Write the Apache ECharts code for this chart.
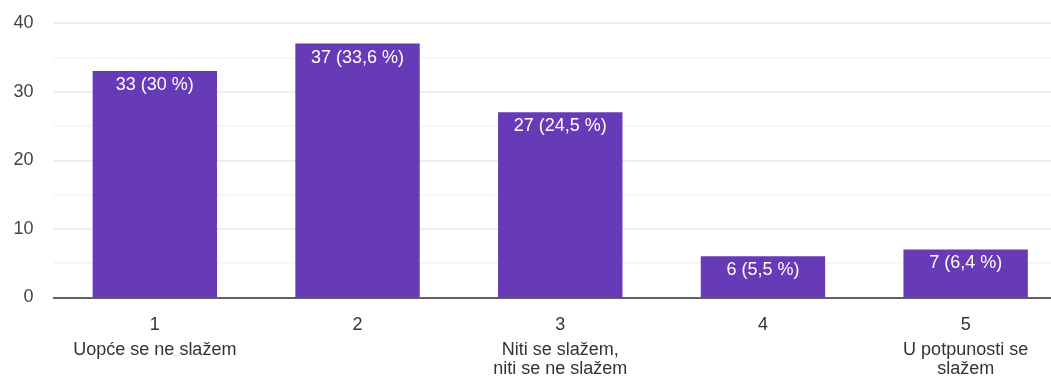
<!DOCTYPE html>
<html>
<head>
<meta charset="utf-8">
<script src="https://cdn.jsdelivr.net/npm/echarts@6/dist/echarts.min.js"></script>
<style>html,body{margin:0;padding:0;background:#fff;}#c{width:1051px;height:378px;}</style>
</head>
<body>
<div id="c"></div>
<script>
const categories = ['1', '2', '3', '4', '5'];
const categoryTexts = ['Uopće se ne slažem', '', 'Niti se slažem,\nniti se ne slažem', '', 'U potpunosti se\nslažem'];
const counts = [33, 37, 27, 6, 7];
const percents = ['30', '33,6', '24,5', '5,5', '6,4'];
const yTicks = [0, 10, 20, 30, 40];

const chart = echarts.init(document.getElementById('c'));
chart.setOption({
  animation: false,
  textStyle: { fontFamily: 'Liberation Sans, Arial, sans-serif' },
  grid: { left: 53.5, width: 1013.5, top: 23, bottom: 80.5, containLabel: false, outerBoundsMode: 'none' },
  xAxis: {
    type: 'category',
    data: categories,
    axisLine: { lineStyle: { color: '#333', width: 1.5 } },
    axisTick: { show: false },
    axisLabel: {
      interval: 0,
      margin: 13,
      formatter: function (v, i) {
        const t = categoryTexts[i];
        let s = '{n|' + v + '}';
        if (t) s += '\n' + t.split('\n').map(l => '{t|' + l + '}').join('\n');
        return s;
      },
      rich: {
        n: { fontSize: 18, color: '#333', lineHeight: 30, fontFamily: 'Liberation Sans, Arial, sans-serif' },
        t: { fontSize: 18, color: '#333', lineHeight: 19, fontFamily: 'Liberation Sans, Arial, sans-serif' }
      }
    }
  },
  yAxis: {
    type: 'value',
    min: yTicks[0],
    max: yTicks[yTicks.length - 1],
    interval: 10,
    axisLine: { show: false },
    axisTick: { show: false },
    axisLabel: { fontSize: 18, color: '#444', margin: 20 },
    splitLine: { lineStyle: { color: '#e9e9e9', width: 1.5 } },
    minorTick: { show: false, splitNumber: 2 },
    minorSplitLine: { show: true, lineStyle: { color: '#f4f4f4', width: 1.5 } }
  },
  series: [{
    type: 'bar',
    data: counts,
    barWidth: 124.4,
    itemStyle: { color: '#673ab7' },
    label: {
      show: true,
      position: 'insideTop',
      distance: 5,
      color: '#fff',
      fontSize: 18,
      formatter: function (p) { return counts[p.dataIndex] + ' (' + percents[p.dataIndex] + ' %)'; }
    }
  }]
});
</script>
</body>
</html>
